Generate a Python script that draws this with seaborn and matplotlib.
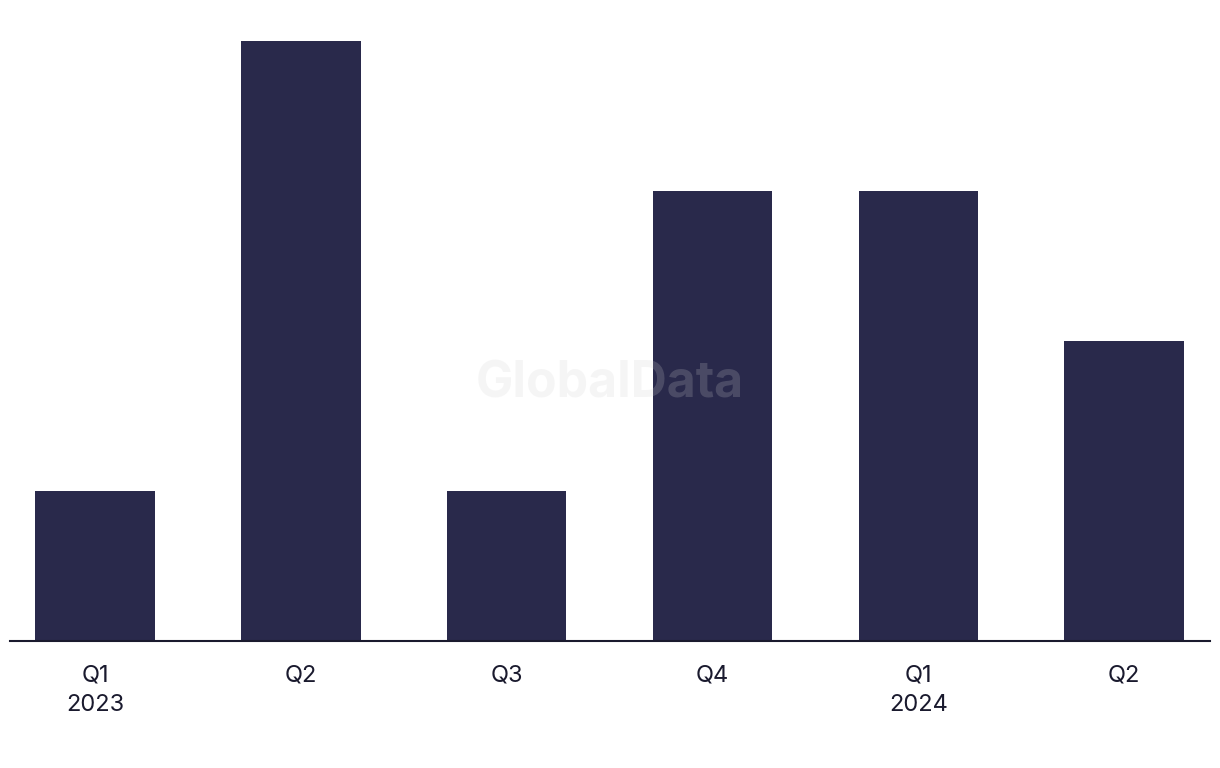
import pandas as pd
import matplotlib.pyplot as plt
import seaborn as sns

# Quarterly values
quarters = ['Q1\n2023', 'Q2', 'Q3', 'Q4', 'Q1\n2024', 'Q2']
values = [1, 4, 1, 3, 3, 2]

df = pd.DataFrame({'quarter': quarters, 'value': values})
df['pos'] = range(len(df))

sns.set_theme(style="white")
plt.rcParams['font.family'] = ['Inter', 'DejaVu Sans']

fig = plt.figure(figsize=(12.2, 7.68), dpi=100)
ax = fig.add_axes([10 / 1220, 127 / 768, 1200 / 1220, 611 / 768])

bar_color = '#29294b'
sns.barplot(x='pos', y='value', data=df, color=bar_color, width=0.58,
            saturation=1, ax=ax, native_scale=True, linewidth=0)

ax.set_xlim(-0.413, 5.417)
ax.set_ylim(0, 4.07)
ax.set_xticks(df['pos'])
ax.set_xticklabels(quarters, fontsize=17, color='#1a1a2e', linespacing=1.45)
ax.set_yticks([])
ax.set_xlabel('')
ax.set_ylabel('')
ax.tick_params(axis='x', length=0, pad=17)

for side in ['top', 'right', 'left']:
    ax.spines[side].set_visible(False)
ax.spines['bottom'].set_color('#1a1a2e')
ax.spines['bottom'].set_linewidth(1.5)

# Watermark
fig.text(610 / 1220, 1 - 384 / 768, 'GlobalData', ha='center', va='center',
         fontsize=36, fontweight='bold', color='#d1d1d1', alpha=0.2, zorder=10)

fig.savefig('out.png', dpi=100)
